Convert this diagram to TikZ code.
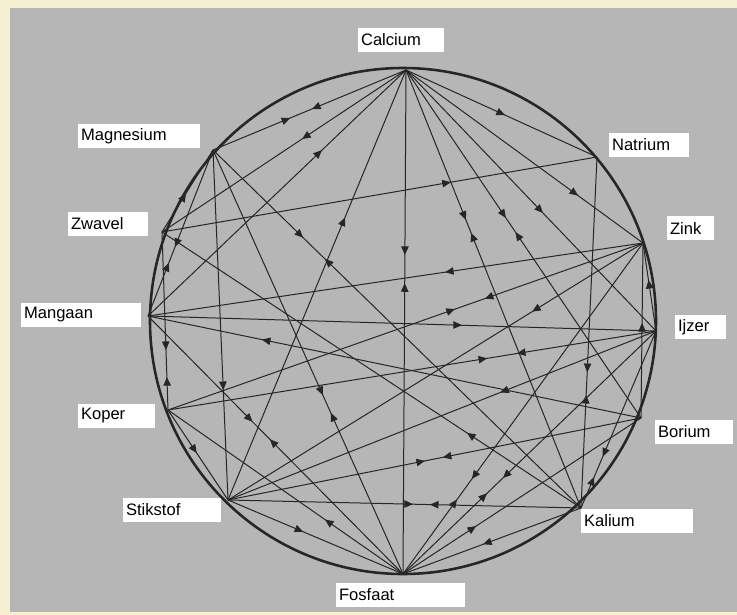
\documentclass[tikz,border=0pt]{standalone}
\usepackage{fontspec}
\setmainfont{Liberation Sans}
\usepackage{tikz}
\usetikzlibrary{arrows.meta,decorations.markings}
\definecolor{cream}{HTML}{F6F0D3}
\definecolor{bggray}{HTML}{B6B6B6}
\definecolor{linecol}{HTML}{262626}

\begin{document}
\begin{tikzpicture}[
    x=0.35mm, y=-0.35mm,
    lbl/.style={fill=white, anchor=west, align=left, inner xsep=1mm, inner ysep=0pt, minimum height=8.4mm, font=\fontsize{16.5}{18}\selectfont},
    link/.style={draw=linecol, line width=0.35mm},
    rim/.style={draw=linecol, line width=0.9mm},
    fwd/.style={postaction={decorate, decoration={markings, mark=at position #1 with {\arrow{Triangle[length=3mm, width=2.6mm]}}}}},
    bwd/.style={postaction={decorate, decoration={markings, mark=at position #1 with {\arrowreversed{Triangle[length=3mm, width=2.6mm]}}}}},
    both/.style 2 args={fwd=#1, bwd=#2}
]

% Background
\fill[cream] (0,0) rectangle (737,615);
\fill[bggray] (10,8) rectangle (737,612);

% Circle
\draw[rim] (403,321) circle [radius=88.55mm];

% Points on the circle
\coordinate (ca) at (406,70);
\coordinate (mg) at (213,150);
\coordinate (na) at (597,157);
\coordinate (zw) at (162,232);
\coordinate (zn) at (643,243);
\coordinate (mn) at (148,316);
\coordinate (fe) at (656,331);
\coordinate (cu) at (168,410);
\coordinate (bo) at (641,418);
\coordinate (st) at (228,500);
\coordinate (ka) at (581,508);
\coordinate (fo) at (403,574);

% Labels
\node[lbl, text width=28.1mm] (calciumlbl) at (358,40) {Calcium};
\node[lbl, text width=40.7mm] (magnesiumlbl) at (78,136) {Magnesium};
\node[lbl, text width=26mm] (natriumlbl) at (609,145) {Natrium};
\node[lbl, text width=26mm] (zwavellbl) at (68,224) {Zwavel};
\node[lbl, text width=14.45mm] (zinklbl) at (667,228) {Zink};
\node[lbl, text width=40mm] (mangaanlbl) at (21,315) {Mangaan};
\node[lbl, text width=15.85mm] (ijzerlbl) at (675,327) {Ijzer};
\node[lbl, text width=24.95mm] (koperlbl) at (78,416) {Koper};
\node[lbl, text width=25.3mm] (boriumlbl) at (655,432) {Borium};
\node[lbl, text width=32.3mm] (stikstoflbl) at (123,510) {Stikstof};
\node[lbl, text width=37.2mm] (kaliumlbl) at (581,521) {Kalium};
\node[lbl, text width=43.15mm] (fosfaatlbl) at (336,595) {Fosfaat};

% Calcium
\draw[link, both={0.487}{0.60}] (ca) -- (mg);
\draw[link, fwd=0.426] (ca) -- (zw);
\draw[link, bwd=0.326] (ca) -- (mn);
\draw[link, bwd=0.343] (ca) -- (st);
\draw[link, both={0.367}{0.423}] (ca) -- (fo);
\draw[link, both={0.342}{0.372}] (ca) -- (ka);
\draw[link, both={0.425}{0.466}] (ca) -- (bo);
\draw[link, fwd=0.548] (ca) -- (fe);
\draw[link, fwd=0.726] (ca) -- (zn);
\draw[link, fwd=0.518] (ca) -- (na);

% Magnesium
\draw[link, bwd=0.53] (mg) -- (zw);
\draw[link, both={0.584}{0.68}] (mg) -- (mn);
\draw[link, fwd=0.686] (mg) -- (st);
\draw[link, both={0.245}{0.304}] (mg) -- (ka);
\draw[link, both={0.578}{0.62}] (mg) -- (fo);

% Natrium, Zwavel
\draw[link, bwd=0.336] (na) -- (zw);
\draw[link, both={0.613}{0.678}] (na) -- (ka);
\draw[link, both={0.663}{0.815}] (zw) -- (cu);
\draw[link, bwd=0.728] (zw) -- (ka);

% Zink
\draw[link, fwd=0.4] (zn) -- (mn);
\draw[link, both={0.333}{0.396}] (zn) -- (cu);
\draw[link, fwd=0.267] (zn) -- (st);
\draw[link, both={0.713}{0.775}] (zn) -- (fo);
\draw[link, bwd=0.42] (zn) -- (fe);
\draw[link, bwd=0.457] (zn) -- (bo);

% Mangaan, Ijzer
\draw[link, fwd=0.618] (mn) -- (fe);
\draw[link, bwd=0.231] (mn) -- (bo);
\draw[link, both={0.41}{0.478}] (mn) -- (fo);
\draw[link, both={0.285}{0.346}] (fe) -- (cu);
\draw[link, fwd=0.364] (fe) -- (st);
\draw[link, both={0.71}{0.825}] (fe) -- (ka);
\draw[link, both={0.605}{0.668}] (fe) -- (fo);

% Koper, Borium, Stikstof, Kalium
\draw[link, fwd=0.48] (cu) -- (st);
\draw[link, bwd=0.668] (cu) -- (fo);
\draw[link, both={0.48}{0.523}] (bo) -- (st);
\draw[link, bwd=0.693] (bo) -- (fo);
\draw[link, both={0.524}{0.572}] (st) -- (ka);
\draw[link, fwd=0.43] (st) -- (fo);
\draw[link, fwd=0.55] (ka) -- (fo);

\end{tikzpicture}
\end{document}
